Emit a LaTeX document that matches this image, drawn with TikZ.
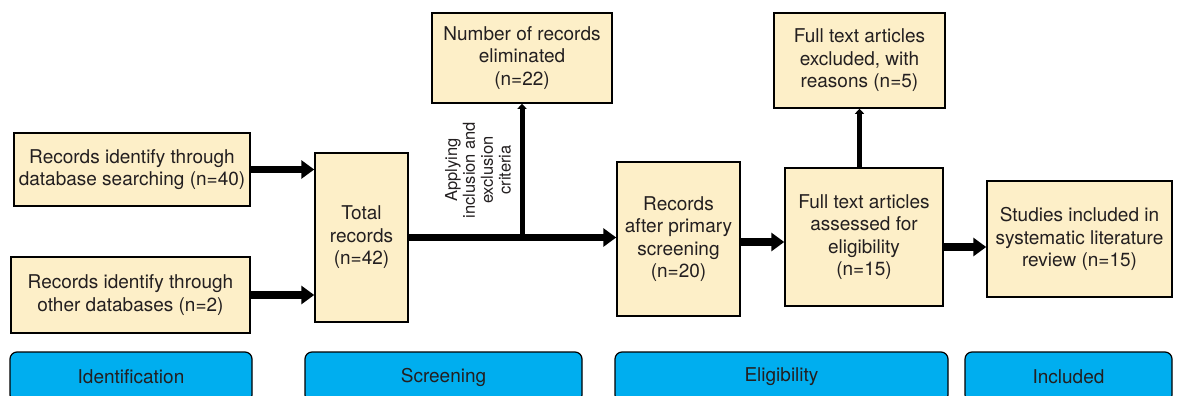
\documentclass[tikz,border=0pt]{standalone}
\usepackage{fontspec}
\setmainfont{TeX Gyre Heros}
\usepackage{xcolor}
\usetikzlibrary{arrows.meta}

\definecolor{boxfill}{HTML}{FDEFC8}
\definecolor{phaseblue}{HTML}{00AEEF}
\definecolor{inkgray}{HTML}{231F20}

\begin{document}
\begin{tikzpicture}[x=1pt,y=-1pt,
    record/.style={draw=black, line width=1.5pt, fill=boxfill, align=center,
        text=inkgray, font=\fontsize{19}{22.5}\selectfont},
    phase/.style={draw=black, line width=1.2pt, fill=phaseblue, rounded corners=7pt,
        minimum height=50pt, text=inkgray, font=\fontsize{19}{22}\selectfont},
    flow/.style={line width=7.5pt, -{Triangle[length=13pt,width=18pt]}},
    branch/.style={line width=5pt, -{Triangle[length=5pt,width=9pt]}}]

    \useasboundingbox (0,0) rectangle (1183,396);
    \clip (0,0) rectangle (1183,396);

    % ===== Identification =====
    \node[record, minimum width=236pt, minimum height=73pt] (db) at (132,169.5)
        {Records identify through\\database searching (n=40)};
    \node[record, minimum width=239pt, minimum height=76pt] (other) at (130.5,295)
        {Records identify through\\other databases (n=2)};

    % ===== Screening =====
    \node[record, minimum width=93pt, minimum height=169pt] (total) at (361.5,237.5)
        {Total\\records\\(n=42)};
    \node[record, minimum width=180pt, minimum height=90pt] (elim) at (522,58)
        {Number of records\\eliminated\\(n=22)};
    \node[rotate=90, align=center, text=inkgray, font=\fontsize{16.5}{17.8}\selectfont]
        (criteria) at (478,170) {Applying\\inclusion and\\exclusion\\criteria};

    % ===== Eligibility =====
    \node[record, minimum width=123pt, minimum height=154pt] (after) at (678.5,239)
        {Records\\after primary\\screening\\(n=20)};
    \node[record, minimum width=158pt, minimum height=138pt] (full) at (864,237)
        {Full text articles\\assessed for\\eligibility\\(n=15)};
    \node[record, minimum width=171pt, minimum height=95pt] (excl) at (859.5,60.5)
        {Full text articles\\excluded, with\\reasons (n=5)};

    % ===== Included =====
    \node[record, minimum width=185pt, minimum height=116pt] (incl) at (1079.5,239)
        {Studies included in\\systematic literature\\review (n=15)};

    % Arrows between stages
    \draw[flow] (db.east) -- (db.east -| total.west);
    \draw[flow] (other.east) -- (other.east -| total.west);
    \draw[flow] (total.east) -- (total.east -| after.west);
    \coordinate (split) at (total.east -| elim.south);
    \draw[branch] (split) -- (elim.south);
    \draw[flow] ([yshift=-3pt]after.east) -- ([yshift=-3pt]after.east -| full.west);
    \draw[branch] (full.north -| excl.south) -- (excl.south);
    \draw[flow] ([yshift=-10pt]full.east) -- ([yshift=-10pt]full.east -| incl.west);

    % Phase bars along the bottom
    \node[phase, minimum width=242pt] (identification) at (131,377) {Identification};
    \node[phase, minimum width=277pt] (screening) at (443.5,377) {Screening};
    \node[phase, minimum width=333pt] (eligibility) at (781.5,377) {Eligibility};
    \node[phase, minimum width=207pt] (included) at (1068.5,377) {Included};
\end{tikzpicture}
\end{document}
